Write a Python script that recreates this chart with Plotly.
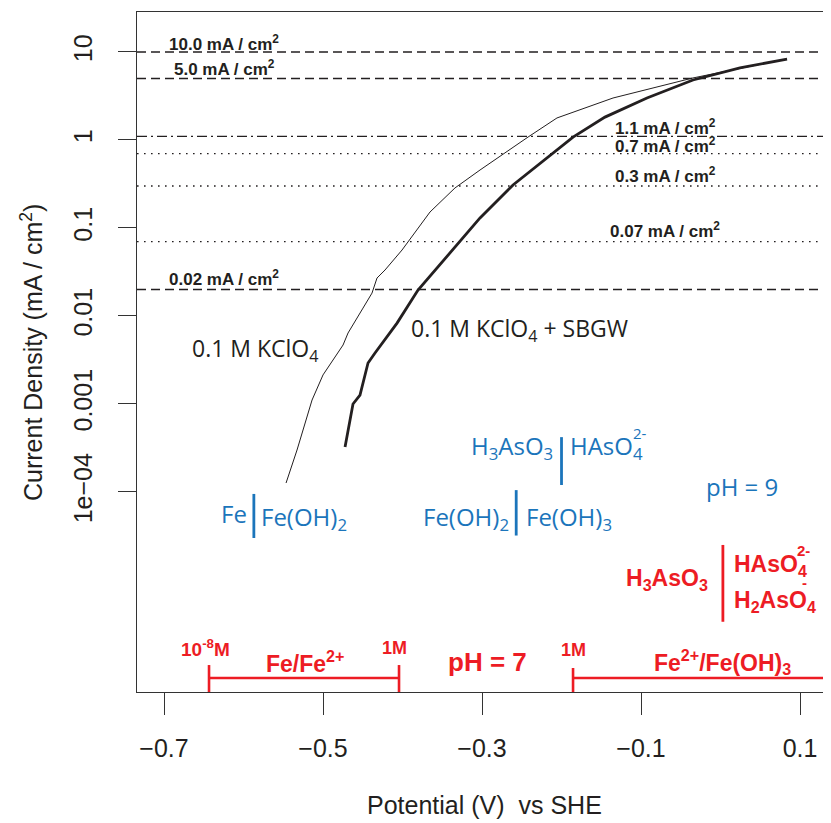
import plotly.graph_objects as go

# ---------------- data ----------------
thin_label = "0.1 M KClO<sub>4</sub>"
thin_x = [-0.5465, -0.5327, -0.5138, -0.5000, -0.4748, -0.4685, -0.4497, -0.4384, -0.4321,
          -0.4220, -0.4006, -0.3654, -0.3340, -0.3025, -0.2421, -0.2057, -0.1352, -0.0346,
          0.0334, 0.0837]
thin_y = [1.265e-4, 3.0e-4, 1.11e-3, 2.14e-3, 4.68e-3, 6.41e-3, 0.0123, 0.0182, 0.0270,
          0.0333, 0.0562, 0.152, 0.285, 0.456, 1.08, 1.78, 3.0, 5.07, 6.76, 8.32]

thick_label = "0.1 M KClO<sub>4</sub> + SBGW"
thick_x = [-0.4723, -0.4623, -0.4535, -0.4434, -0.4346, -0.4069, -0.3805, -0.3377, -0.3025,
           -0.2610, -0.1855, -0.1453, -0.0925, -0.0346, 0.0245, 0.0837]
thick_y = [3.24e-4, 1.0e-3, 1.26e-3, 2.92e-3, 3.8e-3, 8.3e-3, 0.0197, 0.0562, 0.130,
           0.308, 1.08, 1.82, 3.0, 4.81, 6.58, 8.32]

# reference current densities (mA/cm2) and their line styles
ref_values = [10.0, 5.0, 1.1, 0.7, 0.3, 0.07, 0.02]
ref_labels = ["10.0", "5.0", "1.1", "0.7", "0.3", "0.07", "0.02"]
ref_styles = ["dash", "dash", "dashdot", "dot", "dot", "dot", "dash"]

# equilibrium potentials (V vs SHE)
e_fe_feoh2 = -0.587          # pH 9
e_feoh2_feoh3 = -0.257       # pH 9
e_as_ph9 = -0.200            # pH 9
e_as_ph7 = 0.003             # pH 7
e_fe_fe2 = [-0.6434, -0.4044]  # 1e-8 M .. 1 M, pH 7
e_fe2_feoh3 = [-0.1855, 0.20]  # 1 M .., pH 7

x_ticks = [-0.7, -0.5, -0.3, -0.1, 0.1]
x_ticktext = ["\u22120.7", "\u22120.5", "\u22120.3", "\u22120.1", "0.1"]
y_ticks = [1e-4, 1e-3, 1e-2, 1e-1, 1, 10]
y_ticktext = ["1e\u221204", "0.001", "0.01", "0.1", "1", "10"]

# ---------------- styles ----------------
BLUE = "#1b75bb"
RED = "#ed1c24"
DARK = "#231f20"
XMIN, XMAX = -0.734, 0.139
YMIN, YMAX = -6.273, 1.4545
dash_map = {"dash": "9px,5px", "dashdot": "10px,4px,2px,4px", "dot": "1.6px,5.4px"}

fig = go.Figure()

for v, s in zip(ref_values, ref_styles):
    fig.add_trace(go.Scatter(x=[XMIN, XMAX], y=[v, v], mode="lines",
                             line=dict(color=DARK, width=1.4, dash=dash_map[s]),
                             hoverinfo="skip", showlegend=False))

fig.add_trace(go.Scatter(x=thin_x, y=thin_y, mode="lines",
                         line=dict(color=DARK, width=1.0), showlegend=False))
fig.add_trace(go.Scatter(x=thick_x, y=thick_y, mode="lines",
                         line=dict(color=DARK, width=2.8), showlegend=False))

# blue separators (pH 9)
for e, (y0, y1) in [(e_fe_feoh2, (9.5e-5, 3.0e-5)), (e_feoh2_feoh3, (1.05e-4, 3.2e-5)),
                    (e_as_ph9, (4.2e-4, 1.2e-4))]:
    fig.add_trace(go.Scatter(x=[e, e], y=[y0, y1], mode="lines",
                             line=dict(color=BLUE, width=2.8), showlegend=False,
                             hoverinfo="skip"))
# red separator (pH 7)
fig.add_trace(go.Scatter(x=[e_as_ph7, e_as_ph7], y=[2.5e-5, 3.35e-6], mode="lines",
                         line=dict(color=RED, width=2.8), showlegend=False, hoverinfo="skip"))

# red brackets
ybar = 7.69e-7
ytop = 1.08e-6
ybot = 4.5e-7
fig.add_trace(go.Scatter(x=[e_fe_fe2[0], e_fe_fe2[0], None, e_fe_fe2[0], e_fe_fe2[1], None,
                            e_fe_fe2[1], e_fe_fe2[1]],
                         y=[ytop, ybot, None, ybar, ybar, None, ytop, ybot], mode="lines",
                         line=dict(color=RED, width=2.6), showlegend=False, hoverinfo="skip"))
fig.add_trace(go.Scatter(x=[e_fe2_feoh3[0], e_fe2_feoh3[0], None, e_fe2_feoh3[0], e_fe2_feoh3[1]],
                         y=[1.0e-6, ybot, None, ybar, ybar], mode="lines",
                         line=dict(color=RED, width=2.6), showlegend=False, hoverinfo="skip"))

ann = []
# reference line labels
ref_pos = {"10.0": (-0.6245, 1.102), "5.0": (-0.6245, 0.818), "1.1": (-0.0698, 0.148),
           "0.7": (-0.0698, -0.057), "0.3": (-0.0698, -0.398), "0.07": (-0.0698, -1.023),
           "0.02": (-0.6245, -1.568)}
for lab in ref_labels:
    x, y = ref_pos[lab]
    ann.append(dict(x=x, y=y, text=f"{lab} mA / cm<sup>2</sup>", showarrow=False,
                    font=dict(family="Liberation Sans, Arial", size=17, color=DARK,
                              weight="bold")))

TXT = dict(family="Open Sans, Noto Sans, sans-serif", size=24)
ann.append(dict(x=-0.5855, y=-2.38, text=thin_label, showarrow=False,
                font=dict(TXT, size=23, color=DARK)))
ann.append(dict(x=-0.2534, y=-2.15, text=thick_label, showarrow=False,
                font=dict(TXT, size=23, color=DARK)))


def txt(x, y, t, xa, font):
    ann.append(dict(x=x, y=y, text=t, showarrow=False, xanchor=xa, font=font))


BF = dict(TXT, color=BLUE)
txt(-0.5931, -4.24, "Fe", "right", BF)
txt(-0.5805, -4.30, "Fe(OH)<sub>2</sub>", "left", BF)
txt(-0.2640, -4.30, "Fe(OH)<sub>2</sub>", "right", BF)
txt(-0.2472, -4.30, "Fe(OH)<sub>3</sub>", "left", BF)
txt(-0.2081, -3.49, "H<sub>3</sub>AsO<sub>3</sub>", "right", BF)
txt(-0.1918, -3.49, "HAsO<sub>4</sub>", "left", BF)
txt(-0.1010, -3.33, "2-", "center", dict(BF, size=15))
txt(0.0271, -3.943, "pH = 9", "center", BF)

RF = dict(family="Liberation Sans, Arial", size=23, color=RED, weight="bold")
txt(-0.0132, -4.99, "H<sub>3</sub>AsO<sub>3</sub>", "right", RF)
txt(0.0145, -4.84, "HAsO<sub>4</sub>", "left", RF)
txt(0.1045, -4.66, "2-", "center", dict(RF, size=15))
txt(0.0145, -5.25, "H<sub>2</sub>AsO<sub>4</sub>", "left", RF)
txt(0.1060, -5.03, "-", "center", dict(RF, size=15))
txt(-0.6484, -5.773, "10<sup>-8</sup>M", "center", dict(RF, size=19))
txt(-0.5226, -5.93, "Fe/Fe<sup>2+</sup>", "center", RF)
txt(-0.4107, -5.773, "1M", "center", dict(RF, size=18))
txt(-0.2937, -5.932, "pH = 7", "center", dict(RF, size=26))
txt(-0.1843, -5.79, "1M", "center", dict(RF, size=18))
txt(0.0019, -5.93, "Fe<sup>2+</sup>/Fe(OH)<sub>3</sub>", "center", RF)

# axis titles
ann.append(dict(xref="paper", yref="paper", x=0.5, y=-0.166, yanchor="middle",
                xanchor="center", text="Potential (V)  vs SHE", showarrow=False,
                font=dict(family="Liberation Sans, Arial", size=25, color=DARK)))
ann.append(dict(xref="paper", yref="paper", x=-0.1513, y=0.5, textangle=-90,
                xanchor="center", yanchor="middle",
                text="Current Density (mA / cm<sup>2</sup>)", showarrow=False,
                font=dict(family="Liberation Sans, Arial", size=25, color=DARK)))

# page body has an 8px margin: size the figure so the plot box lands where it should
fig.update_layout(
    width=823, height=815,
    margin=dict(l=129, r=0, t=4, b=131),
    paper_bgcolor="white", plot_bgcolor="white",
    annotations=ann,
    showlegend=False,
)
fig.update_xaxes(range=[XMIN, XMAX], showgrid=False, zeroline=False,
                 showline=True, mirror=True, linecolor="#333333", linewidth=1.3,
                 ticks="outside", ticklen=22, tickwidth=1.2, tickcolor="#333333",
                 tickvals=x_ticks, ticktext=x_ticktext, ticklabelstandoff=12,
                 tickfont=dict(family="Liberation Sans, Arial", size=25, color=DARK))
fig.update_yaxes(type="log", range=[YMIN, YMAX], showgrid=False, zeroline=False,
                 showline=True, mirror=False, linecolor="#333333", linewidth=1.3,
                 ticks="outside", ticklen=18, tickwidth=1.2, tickcolor="#333333",
                 tickvals=y_ticks, ticktext=y_ticktext, tickangle=-90,
                 ticklabelstandoff=16,
                 tickfont=dict(family="Liberation Sans Narrow, Liberation Sans, Arial",
                               size=25, color=DARK))

fig.write_html("out.html")
